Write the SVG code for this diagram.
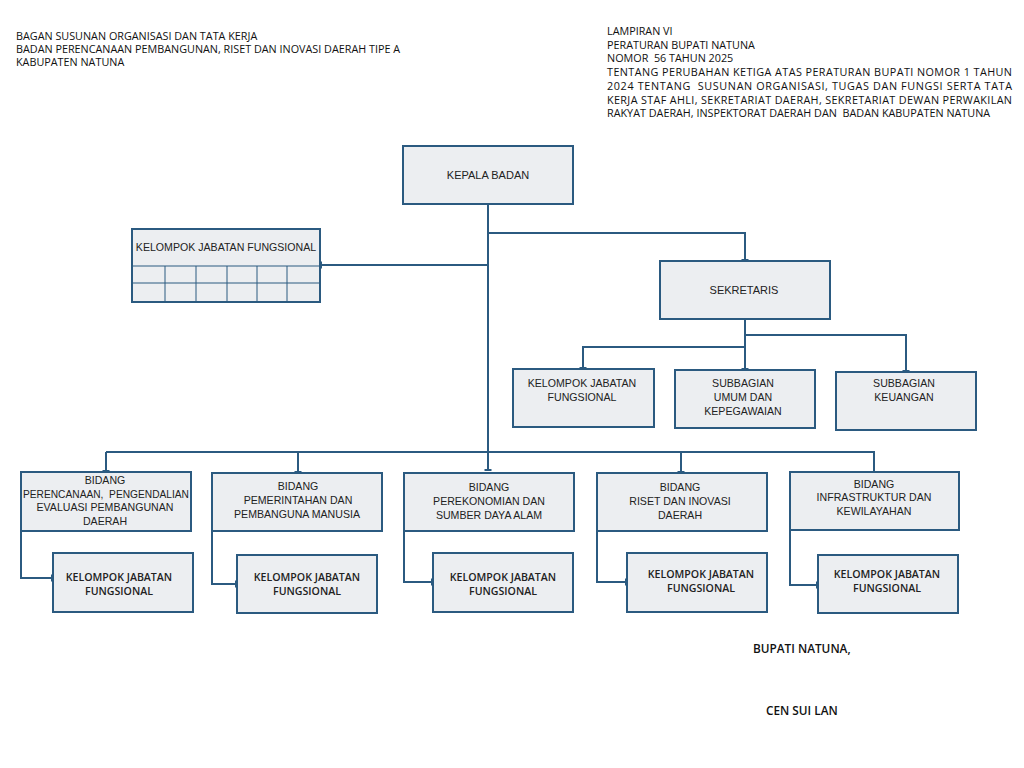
<svg xmlns="http://www.w3.org/2000/svg" width="1024" height="768" viewBox="0 0 1024 768">
<defs>
<style>
.bg{fill:#ffffff}
.box{fill:#eceef1;stroke:#2b5a80;stroke-width:2}
.grid{fill:none;stroke:#2b5a80;stroke-width:1}
.ln{fill:none;stroke:#2b5a80;stroke-width:2}
text{white-space:pre}
.t{font-family:"Liberation Sans",Arial,sans-serif;font-size:10.6px;fill:#222;text-anchor:middle}
.tb{font-family:"Open Sans","Liberation Sans",sans-serif;font-size:10.6px;font-weight:600;fill:#222;text-anchor:middle}
.h{font-family:"Open Sans","Liberation Sans",sans-serif;font-size:10.8px;fill:#111}
.s{font-family:"Open Sans","Liberation Sans",sans-serif;font-size:11.8px;font-weight:600;fill:#111}
</style>
<marker id="tee" viewBox="-4 -4 8 8" markerWidth="8" markerHeight="8" refX="0" refY="0" orient="auto" markerUnits="userSpaceOnUse">
<path d="M0,-3.5 V3.5" stroke="#2b5a80" stroke-width="2"/>
</marker>
</defs>
<rect class="bg" x="0" y="0" width="1024" height="768"/>

<g id="header-left">
<text class="h" x="16" y="40">BAGAN SUSUNAN ORGANISASI DAN TATA KERJA</text>
<text class="h" x="16" y="53">BADAN PERENCANAAN PEMBANGUNAN, RISET DAN INOVASI DAERAH TIPE A</text>
<text class="h" x="16" y="66">KABUPATEN NATUNA</text>
</g>
<g id="header-right">
<text class="h" x="607" y="35">LAMPIRAN VI</text>
<text class="h" x="607" y="49">PERATURAN BUPATI NATUNA</text>
<text class="h" x="607" y="62">NOMOR  56 TAHUN 2025</text>
<text class="h" x="607" y="76" textLength="405" lengthAdjust="spacing">TENTANG PERUBAHAN KETIGA ATAS PERATURAN BUPATI NOMOR 1 TAHUN</text>
<text class="h" x="607" y="90" textLength="405" lengthAdjust="spacing">2024 TENTANG  SUSUNAN ORGANISASI, TUGAS DAN FUNGSI SERTA TATA</text>
<text class="h" x="607" y="104" textLength="405" lengthAdjust="spacing">KERJA STAF AHLI, SEKRETARIAT DAERAH, SEKRETARIAT DEWAN PERWAKILAN</text>
<text class="h" x="607" y="117">RAKYAT DAERAH, INSPEKTORAT DAERAH DAN  BADAN KABUPATEN NATUNA</text>
</g>

<g id="connectors">
<path class="ln" d="M488,204 V470" marker-end="url(#tee)"/>
<path class="ln" d="M488,233 H745 V260" marker-end="url(#tee)"/>
<path class="ln" d="M488,265 H321" marker-end="url(#tee)"/>
<path class="ln" d="M745,319 V369" marker-end="url(#tee)"/>
<path class="ln" d="M745,335 H906 V371" marker-end="url(#tee)"/>
<path class="ln" d="M745,347 H583 V368" marker-end="url(#tee)"/>
<path class="ln" d="M106,452 H874 V472"/>
<path class="ln" d="M106,452 V471" marker-end="url(#tee)"/>
<path class="ln" d="M298,452 V472" marker-end="url(#tee)"/>
<path class="ln" d="M681,452 V472" marker-end="url(#tee)"/>
<path class="ln" d="M21,531 V578 H52" marker-end="url(#tee)"/>
<path class="ln" d="M212,531 V584 H236" marker-end="url(#tee)"/>
<path class="ln" d="M404,531 V582 H432" marker-end="url(#tee)"/>
<path class="ln" d="M597,531 V582 H626" marker-end="url(#tee)"/>
<path class="ln" d="M790,530 V585 H817" marker-end="url(#tee)"/>
</g>

<g id="kepala-badan">
<rect class="box" x="403" y="146" width="170" height="58"/>
<text class="t" x="488" y="179" style="font-size:11px">KEPALA BADAN</text>
</g>

<g id="kjf-top">
<rect class="box" x="132" y="229" width="188" height="73"/>
<path class="grid" d="M132,266 H320 M132,283 H320 M165,266 V302 M196,266 V302 M227,266 V302 M257,266 V302 M287,266 V302"/>
<text class="t" x="226" y="251">KELOMPOK JABATAN FUNGSIONAL</text>
</g>

<g id="sekretaris">
<rect class="box" x="660" y="261" width="170" height="58"/>
<text class="t" x="744" y="294" style="font-size:11px">SEKRETARIS</text>
</g>

<g id="kjf-sek">
<rect class="box" x="513" y="369" width="141" height="58"/>
<text class="t" x="582" y="387">KELOMPOK JABATAN</text>
<text class="t" x="582" y="401">FUNGSIONAL</text>
</g>

<g id="subbag-umum">
<rect class="box" x="675" y="370" width="140" height="58"/>
<text class="t" x="743" y="387">SUBBAGIAN</text>
<text class="t" x="743" y="401">UMUM DAN</text>
<text class="t" x="743" y="415">KEPEGAWAIAN</text>
</g>

<g id="subbag-keuangan">
<rect class="box" x="836" y="372" width="140" height="58"/>
<text class="t" x="904" y="387">SUBBAGIAN</text>
<text class="t" x="904" y="401">KEUANGAN</text>
</g>

<g id="bidang-1">
<rect class="box" x="21" y="472" width="170" height="59"/>
<text class="t" x="105" y="484">BIDANG</text>
<text class="t" x="106" y="498" textLength="166" lengthAdjust="spacingAndGlyphs">PERENCANAAN,  PENGENDALIAN</text>
<text class="t" x="105" y="511">EVALUASI PEMBANGUNAN</text>
<text class="t" x="105" y="525">DAERAH</text>
</g>
<g id="kjf-1">
<rect class="box" x="53" y="553" width="140" height="59"/>
<text class="tb" x="119" y="581">KELOMPOK JABATAN</text>
<text class="tb" x="119" y="595">FUNGSIONAL</text>
</g>

<g id="bidang-2">
<rect class="box" x="212" y="473" width="170" height="58"/>
<text class="t" x="298" y="490">BIDANG</text>
<text class="t" x="298" y="504">PEMERINTAHAN DAN</text>
<text class="t" x="297" y="518">PEMBANGUNA MANUSIA</text>
</g>
<g id="kjf-2">
<rect class="box" x="237" y="555" width="140" height="58"/>
<text class="tb" x="307" y="581">KELOMPOK JABATAN</text>
<text class="tb" x="307" y="595">FUNGSIONAL</text>
</g>

<g id="bidang-3">
<rect class="box" x="404" y="473" width="170" height="58"/>
<text class="t" x="489" y="491">BIDANG</text>
<text class="t" x="489" y="505">PEREKONOMIAN DAN</text>
<text class="t" x="489" y="519">SUMBER DAYA ALAM</text>
</g>
<g id="kjf-3">
<rect class="box" x="433" y="553" width="140" height="59"/>
<text class="tb" x="503" y="581">KELOMPOK JABATAN</text>
<text class="tb" x="503" y="595">FUNGSIONAL</text>
</g>

<g id="bidang-4">
<rect class="box" x="597" y="473" width="170" height="58"/>
<text class="t" x="680" y="491">BIDANG</text>
<text class="t" x="680" y="505">RISET DAN INOVASI</text>
<text class="t" x="680" y="519">DAERAH</text>
</g>
<g id="kjf-4">
<rect class="box" x="627" y="553" width="140" height="59"/>
<text class="tb" x="701" y="578">KELOMPOK JABATAN</text>
<text class="tb" x="701" y="592">FUNGSIONAL</text>
</g>

<g id="bidang-5">
<rect class="box" x="790" y="472" width="169" height="58"/>
<text class="t" x="874" y="488">BIDANG</text>
<text class="t" x="874" y="501">INFRASTRUKTUR DAN</text>
<text class="t" x="874" y="515">KEWILAYAHAN</text>
</g>
<g id="kjf-5">
<rect class="box" x="818" y="555" width="140" height="58"/>
<text class="tb" x="887" y="578">KELOMPOK JABATAN</text>
<text class="tb" x="887" y="592">FUNGSIONAL</text>
</g>

<g id="signature">
<text class="s" x="753" y="653">BUPATI NATUNA,</text>
<text class="s" x="766" y="715">CEN SUI LAN</text>
</g>
</svg>
